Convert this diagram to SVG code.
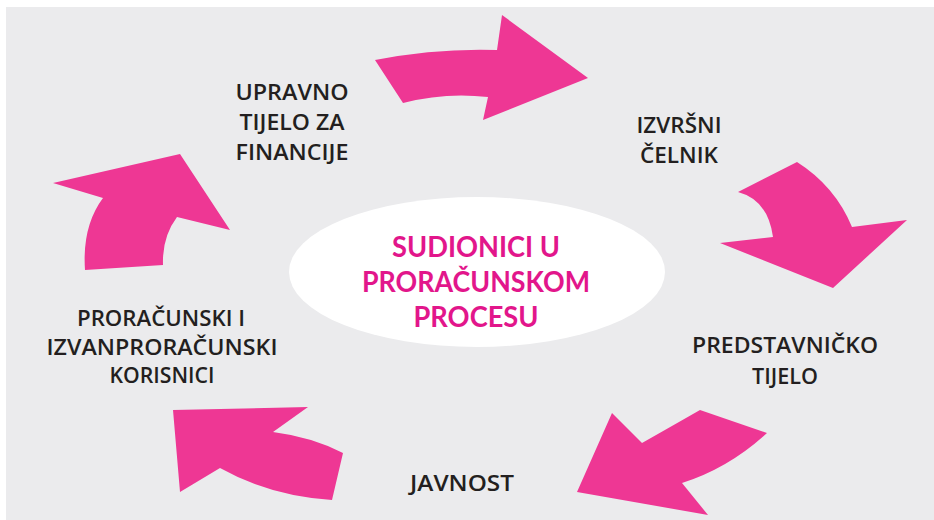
<svg xmlns="http://www.w3.org/2000/svg" width="934" height="520" viewBox="0 0 934 520">
<style>
.arrow{fill:#ee3794}
.lbl{font-family:"Open Sans","Liberation Sans",sans-serif;font-weight:600;font-size:22px;fill:#231f20;text-anchor:middle}
.ctr{font-family:Lato,"Liberation Sans",sans-serif;font-weight:700;font-size:29px;fill:#e2168b;text-anchor:middle}
</style>
<rect x="0" y="0" width="934" height="520" fill="#ffffff"/>
<rect x="6" y="7" width="928" height="513" fill="#ebebed"/>
<g id="connectors">
<path class="arrow" d="M375,60 Q437,48 497,50 L502,15 L588,78 L483,120 L488,97 Q445,92 403,103 Z"/>
<path class="arrow" d="M738,192 L797,162 Q835,186 852,227 L907,220 L833,288 L720,243 L773,237 Q768,200 738,192 Z"/>
<path class="arrow" d="M700,410 L767,433 Q729,468 682,483 L708,515 L577,492 L612,413 L642,443 Q665,430 700,410 Z"/>
<path class="arrow" d="M173,410 L308,407 L273,432 Q312,437 343,453 L332,500 Q270,496 220,468 L180,492 Z"/>
<path class="arrow" d="M53,183 L180,154 L230,230 L177,217 Q162,237 163,265 L85,270 Q82,226 103,198 Z"/>
</g>
<g id="center">
<ellipse cx="477" cy="272" rx="188" ry="75" fill="#ffffff"/>
<text class="ctr" x="476" y="257" textLength="168" lengthAdjust="spacingAndGlyphs">SUDIONICI  U</text>
<text class="ctr" x="476" y="292" textLength="228" lengthAdjust="spacingAndGlyphs">PRORAČUNSKOM</text>
<text class="ctr" x="476" y="327" textLength="125" lengthAdjust="spacingAndGlyphs">PROCESU</text>
</g>
<g id="upravno">
<text class="lbl" x="292" y="100" textLength="113" lengthAdjust="spacingAndGlyphs">UPRAVNO</text>
<text class="lbl" x="292" y="130" textLength="105" lengthAdjust="spacingAndGlyphs">TIJELO ZA</text>
<text class="lbl" x="292" y="160" textLength="113" lengthAdjust="spacingAndGlyphs">FINANCIJE</text>
</g>
<g id="izvrsni">
<text class="lbl" x="679" y="133" textLength="85" lengthAdjust="spacingAndGlyphs">IZVRŠNI</text>
<text class="lbl" x="679" y="163" textLength="78" lengthAdjust="spacingAndGlyphs">ČELNIK</text>
</g>
<g id="predstavnicko">
<text class="lbl" x="785" y="353" textLength="186" lengthAdjust="spacingAndGlyphs">PREDSTAVNIČKO</text>
<text class="lbl" x="785" y="384" textLength="66" lengthAdjust="spacingAndGlyphs">TIJELO</text>
</g>
<g id="javnost">
<text class="lbl" x="462" y="491" textLength="104" lengthAdjust="spacingAndGlyphs">JAVNOST</text>
</g>
<g id="korisnici">
<text class="lbl" x="161" y="326" textLength="168" lengthAdjust="spacingAndGlyphs">PRORAČUNSKI I</text>
<text class="lbl" x="162" y="355" textLength="231" lengthAdjust="spacingAndGlyphs">IZVANPRORAČUNSKI</text>
<text class="lbl" x="162" y="383" textLength="105" lengthAdjust="spacingAndGlyphs">KORISNICI</text>
</g>
</svg>
